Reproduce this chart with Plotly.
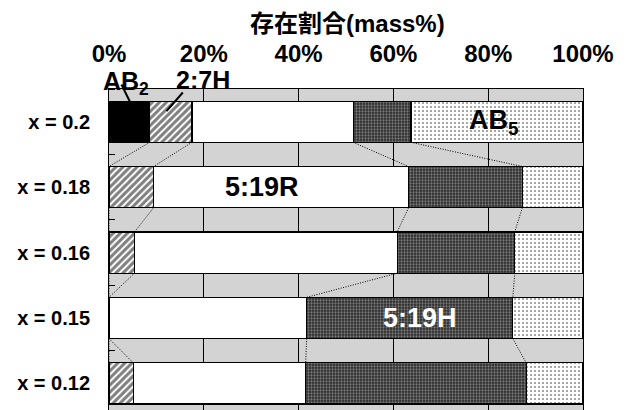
import plotly.graph_objects as go

# ---- data ----
categories = ["x = 0.2", "x = 0.18", "x = 0.16", "x = 0.15", "x = 0.12"]
AB2 = [8.6, 0, 0, 0, 0]
H27 = [8.9, 9.4, 5.4, 0, 5.1]
R519 = [34.0, 53.8, 55.4, 41.7, 36.4]
H519 = [12.2, 24.0, 24.8, 43.5, 46.5]
AB5 = [36.3, 12.8, 14.4, 14.8, 12.0]
x_tickvals = [0, 20, 40, 60, 80, 100]
x_ticktext = ["0%", "20%", "40%", "60%", "80%", "100%"]

FONT = "Liberation Sans, Arial, Noto Sans CJK JP, sans-serif"
BARGAP = 0.37
ypos = list(range(len(categories)))

fig = go.Figure()

series = [
    ("AB2", AB2, dict(color="black")),
    ("2:7H", H27, dict(color="white", pattern=dict(shape="/", fgcolor="black", bgcolor="white", size=5, solidity=0.6))),
    ("5:19R", R519, dict(color="white")),
    ("5:19H", H519, dict(color="#2a2a2a", pattern=dict(shape=".", fgcolor="#c8c8c8", bgcolor="#2a2a2a", size=3, solidity=0.45))),
    ("AB5", AB5, dict(color="white", pattern=dict(shape=".", fgcolor="#222", bgcolor="white", size=4, solidity=0.22))),
]

for name, vals, mk in series:
    mk = dict(mk)
    mk["line"] = dict(color="black", width=1.2)
    fig.add_trace(go.Bar(y=ypos, x=vals, orientation="h", name=name, marker=mk,
                         showlegend=False, hoverinfo="skip"))

# ---- series connector lines (dotted) ----
hw = (1 - BARGAP) / 2
cum = []
run = [0.0] * len(categories)
for _, vals, _ in series[:-1]:
    run = [r + v for r, v in zip(run, vals)]
    cum.append(list(run))
lx, ly = [], []
for c in cum:
    for i in range(len(categories) - 1):
        lx += [c[i], c[i + 1], None]
        ly += [ypos[i] + hw, ypos[i + 1] - hw, None]
fig.add_trace(go.Scatter(x=lx, y=ly, mode="lines", line=dict(color="black", width=1, dash="1px,1.5px"),
                         showlegend=False, hoverinfo="skip", cliponaxis=False))

# ---- labels inside plot ----
ann = [
    dict(text="5:19R", x=32.3, y=1.0, color="black"),
    dict(text="5:19H", x=65.6, y=3.0, color="white"),
    dict(text="AB<sub>5</sub>", x=81.3, y=0.0, color="black"),
]
for a in ann:
    fig.add_annotation(x=a["x"], y=a["y"], xref="x", yref="y", text="<b>" + a["text"] + "</b>",
                       showarrow=False, font=dict(family=FONT, size=27, color=a["color"]),
                       xanchor="center", yanchor="middle")

# labels above plot
for txt, xv, yv in [("AB<sub>2</sub>", 3.6, 1.02), ("2:7H", 19.8, 1.027)]:
    fig.add_annotation(x=xv, y=yv, xref="x", yref="paper", text="<b>" + txt + "</b>",
                       showarrow=False, font=dict(family=FONT, size=25, color="black"),
                       xanchor="center", yanchor="middle", borderpad=0)

fig.add_annotation(x=0.504, y=1.205, xref="paper", yref="paper", text="<b>存在割合(mass%)</b>",
                   showarrow=False, font=dict(family=FONT, size=24, color="black"),
                   xanchor="center", yanchor="middle")

# leader lines
fig.add_shape(type="line", x0=0.0262, y0=1.014, x1=0.0437, y1=0.962, xref="paper", yref="paper",
              line=dict(color="black", width=2))
fig.add_shape(type="line", x0=0.1557, y0=0.989, x1=0.1213, y1=0.931, xref="paper", yref="paper",
              line=dict(color="black", width=2))

fig.update_layout(
    barmode="stack",
    bargap=BARGAP,
    width=630, height=410,
    margin=dict(l=101, r=55, t=81, b=8),
    paper_bgcolor="white",
    plot_bgcolor="#d3d3d3",
    font=dict(family=FONT, color="black"),
    xaxis=dict(side="top", range=[0, 100], tickvals=x_tickvals,
               ticktext=["<b>%s</b>" % t for t in x_ticktext],
               tickfont=dict(size=24, family=FONT), ticks="", ticklabelstandoff=16,
               showgrid=True, gridcolor="black", gridwidth=1, zeroline=False,
               showline=True, linecolor="black", linewidth=1, mirror=True),
    yaxis=dict(range=[4.407, -0.5], tickvals=ypos,
               ticktext=["<b>%s</b>" % c for c in categories],
               tickfont=dict(size=20, family=FONT), ticks="", ticklabelstandoff=14,
               showgrid=False, zeroline=False,
               showline=True, linecolor="black", linewidth=1, mirror=True,
               minor=dict(tick0=0.5, dtick=1, ticks="inside", ticklen=6, tickcolor="black", showgrid=False)),
)

fig.write_html("out.html")
